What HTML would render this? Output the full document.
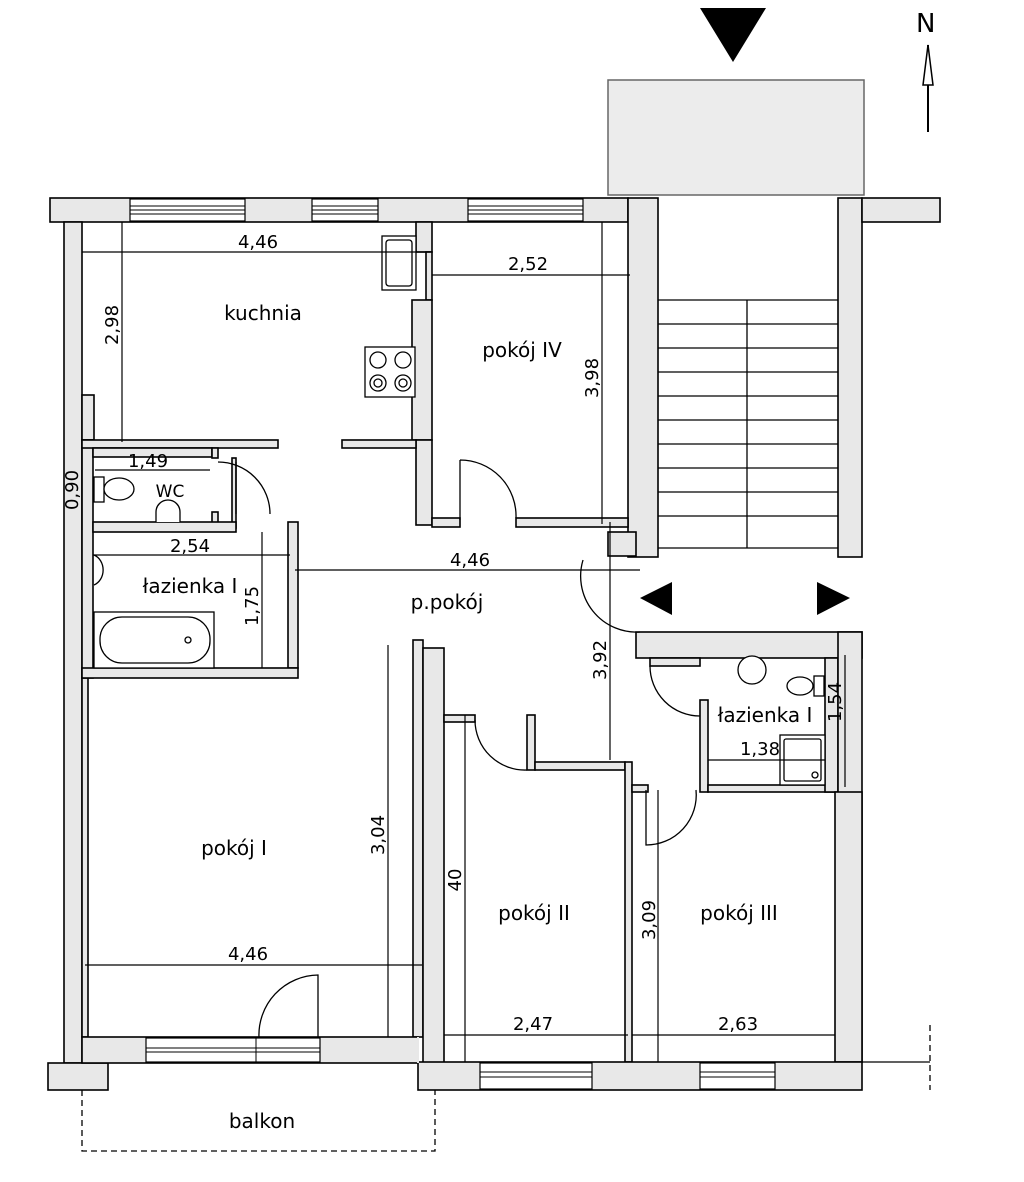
<!DOCTYPE html>
<html><head><meta charset="utf-8"><style>
html,body{margin:0;padding:0;background:#fff}
svg{display:block}
text{font-family:"DejaVu Sans","Liberation Sans",sans-serif;fill:#000}
</style></head><body>
<svg width="1024" height="1182" viewBox="0 0 1024 1182" xmlns="http://www.w3.org/2000/svg">
<!-- landing -->
<rect x="608" y="80" width="256" height="115" fill="#ececec" stroke="#666" stroke-width="1.5"/>
<polygon points="700,8 766,8 733,62" fill="#000"/>
<text x="916" y="32" font-size="26">N</text>
<line x1="928" y1="45" x2="928" y2="132" stroke="#000" stroke-width="2"/>
<polygon points="928,45 923,85 933,85" fill="#fff" stroke="#000" stroke-width="1.5"/>

<g fill="#e8e8e8" stroke="#000" stroke-width="1.6">
<rect x="50" y="198" width="578" height="24"/>
<rect x="628" y="198" width="30" height="359"/>
<rect x="838" y="198" width="24" height="359"/>
<rect x="862" y="198" width="78" height="24"/>
<!-- left wall -->
<rect x="64" y="222" width="18" height="841"/>
<rect x="82" y="395" width="12" height="45"/>
<rect x="82" y="440" width="11" height="238"/>
<rect x="82" y="678" width="6" height="359"/>
<rect x="48" y="1063" width="60" height="27"/>
<!-- kitchen/pokoj IV partition -->
<rect x="416" y="222" width="16" height="30"/>
<rect x="426" y="252" width="6" height="48"/>
<rect x="412" y="300" width="20" height="140"/>
<rect x="416" y="440" width="16" height="85"/>
<rect x="432" y="518" width="28" height="9"/>
<rect x="516" y="518" width="112" height="9"/>
<rect x="82" y="440" width="196" height="8"/>
<rect x="342" y="440" width="74" height="8"/>
<!-- WC -->
<rect x="93" y="448" width="119" height="9"/>
<rect x="212" y="448" width="6" height="10"/>
<rect x="232" y="458" width="4" height="70"/>
<rect x="212" y="512" width="6" height="16"/>
<rect x="93" y="522" width="143" height="10"/>
<rect x="288" y="522" width="10" height="146"/>
<rect x="82" y="668" width="216" height="10"/>
<!-- pokoj I / II wall -->
<rect x="413" y="640" width="10" height="397"/>
<rect x="423" y="648" width="21" height="415"/>
<rect x="444" y="715" width="31" height="7"/>
<rect x="527" y="715" width="8" height="55"/>
<rect x="535" y="762" width="90" height="8"/>
<rect x="625" y="762" width="7" height="300"/>
<rect x="632" y="785" width="16" height="7"/>
<rect x="636" y="632" width="226" height="26"/>
<rect x="650" y="658" width="50" height="8"/>
<rect x="700" y="700" width="8" height="92"/>
<rect x="708" y="785" width="127" height="7"/>
<rect x="825" y="658" width="13" height="134"/>
<rect x="838" y="632" width="24" height="430"/>
<rect x="835" y="792" width="27" height="270"/>
<rect x="608" y="532" width="28" height="24"/>
<!-- bottom walls -->
<rect x="82" y="1037" width="336" height="26"/>
<rect x="418" y="1062" width="444" height="28"/>
</g>
<line x1="418" y1="1037" x2="418" y2="1063" stroke="#e8e8e8" stroke-width="2"/>
<!-- windows -->
<g fill="#fff" stroke="#000" stroke-width="1.2">
<rect x="130" y="199" width="115" height="22"/><rect x="312" y="199" width="66" height="22"/><rect x="468" y="199" width="115" height="22"/>
<rect x="146" y="1038" width="174" height="24"/><rect x="480" y="1063" width="112" height="26"/><rect x="700" y="1063" width="75" height="26"/>
</g>
<g stroke="#000" stroke-width="1">
<line x1="130" y1="206" x2="245" y2="206"/><line x1="130" y1="210" x2="245" y2="210"/><line x1="130" y1="214" x2="245" y2="214"/>
<line x1="312" y1="206" x2="378" y2="206"/><line x1="312" y1="210" x2="378" y2="210"/><line x1="312" y1="214" x2="378" y2="214"/>
<line x1="468" y1="206" x2="583" y2="206"/><line x1="468" y1="210" x2="583" y2="210"/><line x1="468" y1="214" x2="583" y2="214"/>
<line x1="146" y1="1048" x2="320" y2="1048"/><line x1="146" y1="1052" x2="320" y2="1052"/><line x1="256" y1="1038" x2="256" y2="1062"/>
<line x1="480" y1="1072" x2="592" y2="1072"/><line x1="480" y1="1077" x2="592" y2="1077"/>
<line x1="700" y1="1072" x2="775" y2="1072"/><line x1="700" y1="1077" x2="775" y2="1077"/>
</g>
<g stroke="#000" stroke-width="1.3">
<line x1="658" y1="300" x2="838" y2="300"/><line x1="658" y1="324" x2="838" y2="324"/><line x1="658" y1="348" x2="838" y2="348"/>
<line x1="658" y1="372" x2="838" y2="372"/><line x1="658" y1="396" x2="838" y2="396"/><line x1="658" y1="420" x2="838" y2="420"/>
<line x1="658" y1="444" x2="838" y2="444"/><line x1="658" y1="468" x2="838" y2="468"/><line x1="658" y1="492" x2="838" y2="492"/>
<line x1="658" y1="516" x2="838" y2="516"/><line x1="658" y1="548" x2="838" y2="548"/>
<line x1="747" y1="300" x2="747" y2="548"/>
</g>
<polygon points="640,598 672,582 672,615" fill="#000"/>
<polygon points="850,598 817,582 817,615" fill="#000"/>
<g fill="none" stroke="#000" stroke-width="1.3">
<path d="M218,462 A52,52 0 0 1 270,514"/><line x1="236" y1="462" x2="236" y2="514"/>
<path d="M460,460 L460,520 M460,460 A56,56 0 0 1 516,518"/>
<path d="M583,560 A56,56 0 0 0 640,632"/>
<path d="M475,720 A50,50 0 0 0 527,770"/>
<path d="M650,666 A50,50 0 0 0 700,716"/>
<path d="M646,790 L646,845 A50,50 0 0 0 696,790"/>
<path d="M259,1038 A60,60 0 0 1 318,975 L318,1038"/>
<path d="M82,1090 L82,1151 L435,1151 L435,1090" stroke-dasharray="6,4"/>
<path d="M930,1025 L930,1090" stroke-dasharray="6,4"/>
<line x1="862" y1="1062" x2="930" y2="1062"/>
</g>
<g fill="#fff" stroke="#000" stroke-width="1.3">
<rect x="382" y="236" width="34" height="54"/><rect x="386" y="240" width="26" height="46" rx="3"/>
<rect x="365" y="347" width="50" height="50"/>
<circle cx="378" cy="360" r="8"/><circle cx="403" cy="360" r="8"/><circle cx="378" cy="383" r="8"/><circle cx="403" cy="383" r="8"/>
<circle cx="378" cy="383" r="4"/><circle cx="403" cy="383" r="4"/>
<rect x="94" y="477" width="10" height="25"/><ellipse cx="119" cy="489" rx="15" ry="11"/>
<path d="M156,522 L156,512 A12,12 0 0 1 180,512 L180,522"/>
<path d="M94,555 A14,16 0 0 1 94,585"/>
<rect x="94" y="612" width="120" height="56"/><rect x="100" y="617" width="110" height="46" rx="22"/><circle cx="188" cy="640" r="3"/>
<ellipse cx="752" cy="670" rx="14" ry="14"/>
<ellipse cx="800" cy="686" rx="13" ry="9"/><rect x="814" y="676" width="10" height="20"/>
<rect x="780" y="735" width="45" height="50"/><rect x="784" y="739" width="37" height="42" rx="2"/><circle cx="815" cy="775" r="3"/>
</g>
<g stroke="#000" stroke-width="1.2">
<line x1="82" y1="252" x2="430" y2="252"/><line x1="122" y1="222" x2="122" y2="442"/>
<line x1="432" y1="275" x2="630" y2="275"/><line x1="602" y1="222" x2="602" y2="524"/>
<line x1="95" y1="470" x2="210" y2="470"/><line x1="82" y1="447" x2="82" y2="530"/>
<line x1="93" y1="555" x2="290" y2="555"/><line x1="262" y1="532" x2="262" y2="668"/>
<line x1="295" y1="570" x2="640" y2="570"/><line x1="610" y1="522" x2="610" y2="760"/>
<line x1="388" y1="645" x2="388" y2="1037"/><line x1="85" y1="965" x2="422" y2="965"/>
<line x1="465" y1="715" x2="465" y2="1062"/><line x1="444" y1="1035" x2="628" y2="1035"/>
<line x1="658" y1="790" x2="658" y2="1062"/><line x1="632" y1="1035" x2="835" y2="1035"/>
<line x1="845" y1="655" x2="845" y2="787"/><line x1="708" y1="760" x2="825" y2="760"/>
</g>
<g font-size="18" text-anchor="middle">
<text x="258" y="248">4,46</text>
<text x="528" y="270">2,52</text>
<text x="148" y="467">1,49</text>
<text x="190" y="552">2,54</text>
<text x="470" y="566">4,46</text>
<text x="248" y="960">4,46</text>
<text x="533" y="1030">2,47</text>
<text x="738" y="1030">2,63</text>
<text x="760" y="755">1,38</text>
<text transform="translate(118,325) rotate(-90)">2,98</text>
<text transform="translate(598,378) rotate(-90)">3,98</text>
<text transform="translate(78,490) rotate(-90)">0,90</text>
<text transform="translate(258,606) rotate(-90)">1,75</text>
<text transform="translate(606,660) rotate(-90)">3,92</text>
<text transform="translate(384,835) rotate(-90)">3,04</text>
<text transform="translate(461,880) rotate(-90)">40</text>
<text transform="translate(655,920) rotate(-90)">3,09</text>
<text transform="translate(841,702) rotate(-90)">1,54</text>
</g>
<g font-size="20" text-anchor="middle">
<text x="263" y="320">kuchnia</text>
<text x="522" y="357">pokój IV</text>
<text x="170" y="497" font-size="17">WC</text>
<text x="190" y="593">łazienka I</text>
<text x="447" y="609">p.pokój</text>
<text x="234" y="855">pokój I</text>
<text x="534" y="920">pokój II</text>
<text x="739" y="920">pokój III</text>
<text x="765" y="722">łazienka I</text>
<text x="262" y="1128">balkon</text>
</g>
</svg>
</body></html>
